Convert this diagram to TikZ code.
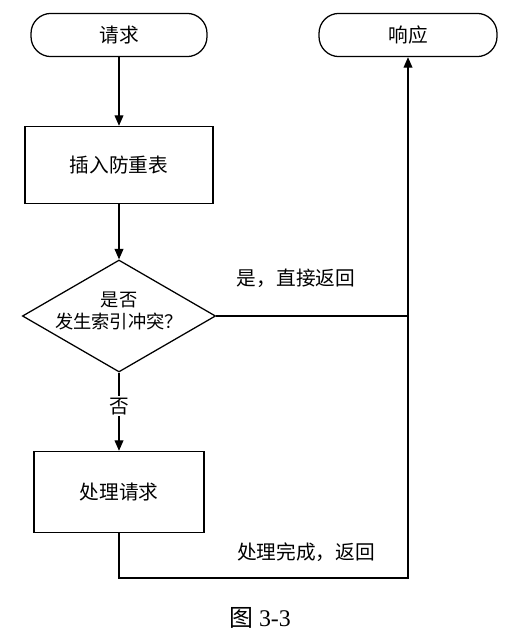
\documentclass[tikz,border=0pt]{standalone}
\usepackage{fontspec}
\usepackage{tikz}
\usetikzlibrary{arrows.meta,positioning,calc,shapes.geometric}
\setmainfont{Liberation Serif}
\newfontfamily\cjk{Noto Sans CJK SC}
\newfontfamily\cjkcap{Noto Sans CJK SC}

\begin{document}
\begin{tikzpicture}[
      ar/.style={-{Triangle[length=2.6mm,width=2.2mm]},line width=0.8pt},
      ln/.style={line width=0.8pt},
      term/.style={draw,line width=0.9pt,rounded corners=0.5cm,minimum width=4.4cm,
                   minimum height=1.08cm,font=\cjk\fontsize{14}{16}\selectfont},
      proc/.style={draw,line width=0.9pt,inner sep=0pt,
                   font=\cjk\fontsize{14}{16}\selectfont},
      cond/.style={draw,diamond,line width=0.9pt,inner sep=0pt,
                   minimum width=4.83cm,minimum height=2.8cm},
      condtxt/.style={align=center,inner sep=0pt,font=\cjk\fontsize{13}{16}\selectfont},
      lb/.style={font=\cjk\fontsize{14}{16}\selectfont,inner sep=1pt}]

    \useasboundingbox (0,0) rectangle (12.775,-16);

    % ================= terminals =================
    \node[term] (request) at (2.975,-0.875) {请求};
    \node[term,minimum width=4.45cm] (respond) at (10.2,-0.875) {响应};

    % ================= main column =================
    \node[proc,minimum width=4.7cm,minimum height=1.93cm] (insert)
      at (2.975,-4.125) {插入防重表};
    \node[cond] (check) at (2.975,-7.9) {};
    \node[condtxt] (checktxt) at (2.975,-7.78) {是否\\发生索引冲突？};
    \node[proc,minimum width=4.25cm,minimum height=2.03cm] (deal)
      at (2.975,-12.3) {处理请求};

    \draw[ar] (request) -- (insert);
    \draw[ar] (insert) -- (check);
    \draw[ar] (check) -- node[lb,fill=white,pos=0.43] (no) {否} (deal);

    % ================= return paths =================
    \coordinate (join) at (check.east -| respond.south);
    \coordinate (loopend) at (10.2,-14.45);
    \draw[ln] (check.east) -- (join);
    \draw[ar] (deal.south) |- (loopend) -- (respond.south);

    \node[lb] (yes) at (7.4,-6.95) {是，直接返回};
    \node[lb] (done) at (7.65,-13.8) {处理完成，返回};

    % ================= caption =================
    \node[font=\fontsize{17}{19}\selectfont] (cap) at (6.5,-15.45)
      {{\cjkcap 图}\ 3-3};
  \end{tikzpicture}
\end{document}
